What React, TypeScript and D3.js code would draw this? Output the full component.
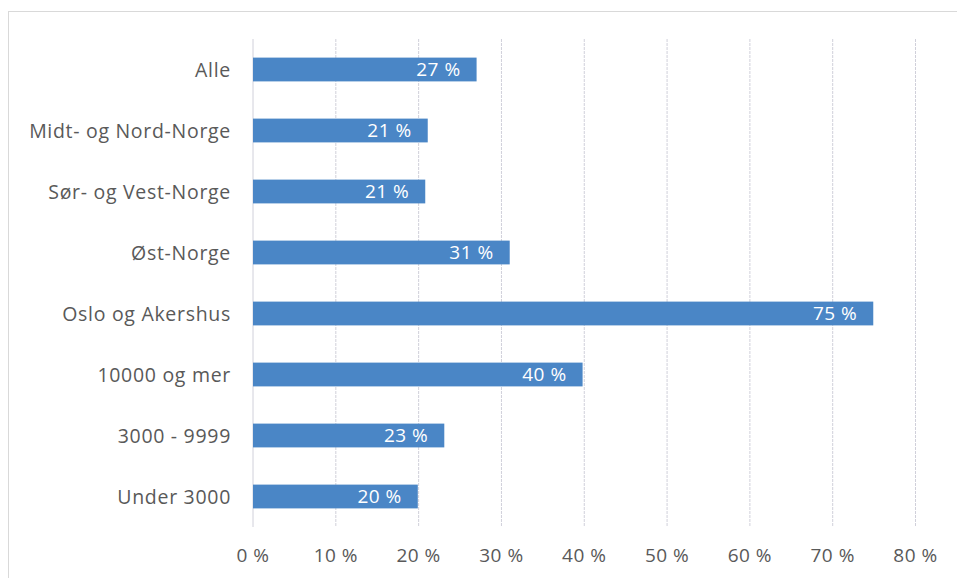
import { scaleLinear, scaleBand } from "d3";

const categories = [
  "Alle",
  "Midt- og Nord-Norge",
  "Sør- og Vest-Norge",
  "Øst-Norge",
  "Oslo og Akershus",
  "10000 og mer",
  "3000 - 9999",
  "Under 3000",
];
const values = [0.27, 0.211, 0.208, 0.31, 0.749, 0.398, 0.231, 0.199];
const valueLabels = ["27 %", "21 %", "21 %", "31 %", "75 %", "40 %", "23 %", "20 %"];
const xTicks = [0, 0.1, 0.2, 0.3, 0.4, 0.5, 0.6, 0.7, 0.8];

const W = 957;
const H = 578;
const FONT = "'Open Sans', 'Liberation Sans', Arial, sans-serif";

export default function App() {
  const x = scaleLinear().domain([0, 0.8]).range([253, 915.5]);
  const y = scaleBand<string>().domain(categories).range([39, 527]).paddingInner(0.61).paddingOuter(0.305);

  return (
    <svg
      width={W}
      height={H}
      style={{ position: "absolute", left: 0, top: 0, background: "#fff" }}
      fontFamily={FONT}
      letterSpacing={0.5}
    >
      {/* chart frame */}
      <rect x={8.5} y={11.5} width={W + 10} height={H + 10} fill="none" stroke="#d9d9d9" />

      {/* grid */}
      {xTicks.map((t) => (
        <line
          key={t}
          x1={x(t)}
          x2={x(t)}
          y1={39}
          y2={527}
          stroke="#d0d0da"
          strokeWidth={1}
          strokeDasharray={t === 0 ? undefined : "3,1"}
        />
      ))}

      {/* bars */}
      {categories.map((c, i) => (
        <g key={c}>
          <rect
            x={x(0)}
            y={y(c)}
            width={x(values[i]) - x(0)}
            height={y.bandwidth()}
            fill="#4a86c6"
          />
          <text
            x={x(values[i]) - 16}
            y={(y(c) ?? 0) + y.bandwidth() / 2}
            dy="0.36em"
            textAnchor="end"
            fontSize={19}
            fill="#fff"
          >
            {valueLabels[i]}
          </text>
          <text
            x={231}
            y={(y(c) ?? 0) + y.bandwidth() / 2}
            dy="0.36em"
            textAnchor="end"
            fontSize={19.5}
            letterSpacing={0.7}
            fill="#595959"
          >
            {c}
          </text>
        </g>
      ))}

      {/* x axis labels */}
      {xTicks.map((t) => (
        <text key={t} x={x(t)} y={555} dy="0.36em" textAnchor="middle" fontSize={19} fill="#595959">
          {`${Math.round(t * 100)} %`}
        </text>
      ))}
    </svg>
  );
}
